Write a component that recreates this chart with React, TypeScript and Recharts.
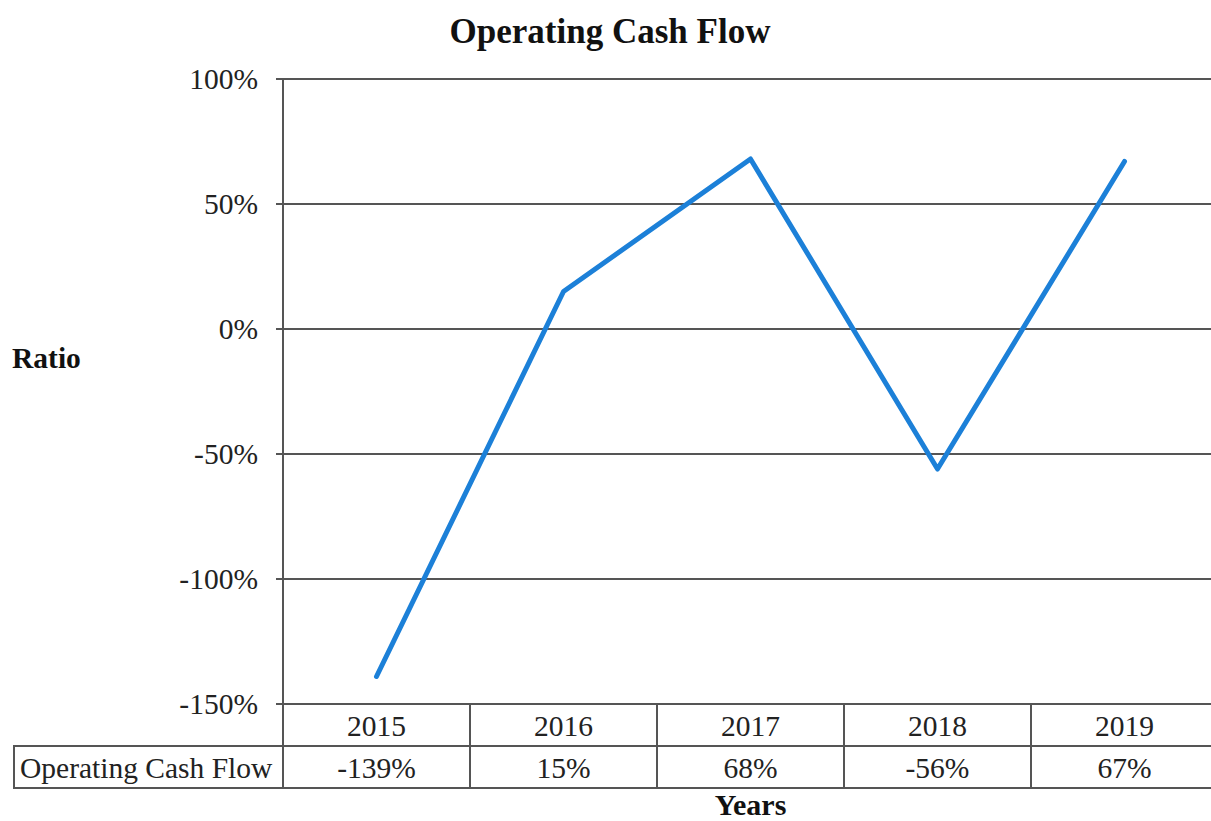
import { LineChart, Line, XAxis, YAxis, CartesianGrid } from 'recharts';

const years = ['2015', '2016', '2017', '2018', '2019'];
const cashFlow = [-139, 15, 68, -56, 67];
const yTicks = [-150, -100, -50, 0, 50, 100];

const chartData = years.map((year, i) => ({ year, ocf: cashFlow[i] }));

const FONT = '"Liberation Serif", "Times New Roman", serif';
const GRID = '#555555';
const CELL_W = 187;
const ROW_H = 42;
const LABEL_W = 269;
const FS = 29.5;

const fmtPct = (v: number) => `${v}%`;

// draws the data table under the plot: year row + value row
const TableTick = (props: any) => {
    const { x, y, payload, index } = props;
    const half = CELL_W / 2;
    const point = chartData.find(d => d.year === payload.value);
    return (
        <g>
            <rect x={x - half} y={y} width={CELL_W} height={ROW_H} fill="none" stroke={GRID} strokeWidth={2} />
            <text x={x} y={y + ROW_H / 2 + 11} textAnchor="middle" fontSize={FS} fontFamily={FONT} fill="#222">
                {payload.value}
            </text>
            <rect x={x - half} y={y + ROW_H} width={CELL_W} height={ROW_H} fill="none" stroke={GRID} strokeWidth={2} />
            <text x={x} y={y + ROW_H * 1.5 + 11} textAnchor="middle" fontSize={FS} fontFamily={FONT} fill="#222">
                {point ? fmtPct(point.ocf) : ''}
            </text>
            {index === 0 && (
                <g>
                    <rect x={x - half - LABEL_W} y={y + ROW_H} width={LABEL_W} height={ROW_H} fill="none" stroke={GRID} strokeWidth={2} />
                    <text x={x - half - LABEL_W + 6} y={y + ROW_H * 1.5 + 11} fontSize={FS} fontFamily={FONT} fill="#222">
                        Operating Cash Flow
                    </text>
                </g>
            )}
        </g>
    );
};

export default function App() {
    return (
        <div style={{ position: 'absolute', left: 0, top: 0, width: 1211, height: 821, overflow: 'hidden', background: '#fff' }}>
            <div style={{ position: 'absolute', top: 12, left: 0, width: 1220, textAlign: 'center', fontFamily: FONT, fontWeight: 'bold', fontSize: 35, color: '#111' }}>
                Operating Cash Flow
            </div>
            <LineChart width={1220} height={821} data={chartData} margin={{ top: 79, right: 2, bottom: 0, left: 0 }}>
                <CartesianGrid vertical={false} stroke={GRID} strokeWidth={2} />
                <XAxis
                    dataKey="year"
                    height={117}
                    padding={{ left: CELL_W / 2, right: CELL_W / 2 }}
                    axisLine={false}
                    tickLine={false}
                    tickSize={0}
                    tickMargin={0}
                    interval={0}
                    tick={<TableTick />}
                    label={{
                        content: (p: any) => {
                            const vb = p.viewBox || {};
                            return (
                                <text x={vb.x + vb.width / 2} y={815} textAnchor="middle" fontSize={30} fontWeight="bold" fontFamily={FONT} fill="#111">
                                    Years
                                </text>
                            );
                        }
                    }}
                />
                <YAxis
                    width={283}
                    domain={[-150, 100]}
                    ticks={yTicks}
                    tickFormatter={fmtPct}
                    axisLine={{ stroke: GRID, strokeWidth: 2 }}
                    tickLine={{ stroke: GRID, strokeWidth: 2 }}
                    tickSize={7}
                    tickMargin={18}
                    tick={{ fontSize: FS, fontFamily: FONT, fill: '#222' }}
                    label={{
                        content: () => (
                            <text x={12} y={368} fontSize={29.5} fontWeight="bold" fontFamily={FONT} fill="#111">
                                Ratio
                            </text>
                        )
                    }}
                />
                <Line
                    type="linear"
                    dataKey="ocf"
                    stroke="#1c80d8"
                    strokeWidth={5}
                    strokeLinecap="round"
                    strokeLinejoin="round"
                    dot={false}
                    activeDot={false}
                    isAnimationActive={false}
                />
            </LineChart>
        </div>
    );
}
